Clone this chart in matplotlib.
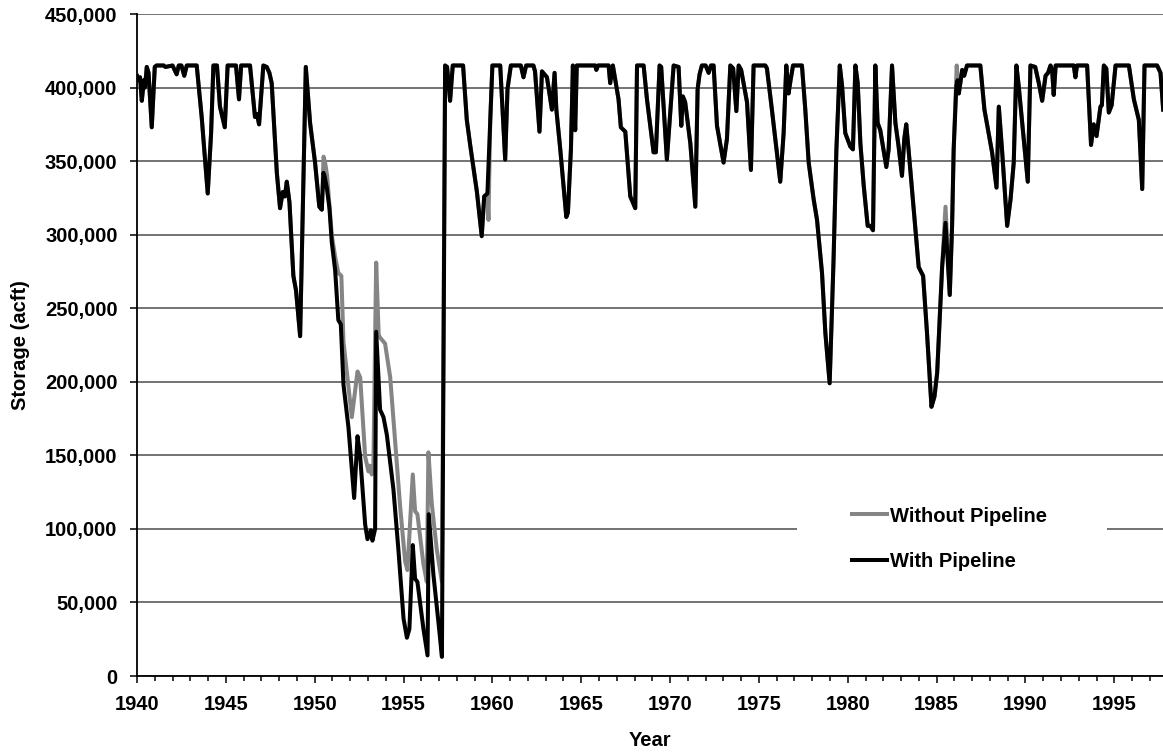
import numpy as np
import matplotlib
matplotlib.use("Agg")
import matplotlib.pyplot as plt
from matplotlib.patches import Rectangle
from matplotlib.ticker import FuncFormatter, MultipleLocator

# storage with the pipeline (black), values in thousand acft
years = [
    1940.0, 1940.08, 1940.17, 1940.27, 1940.39, 1940.45, 1940.55, 1940.65, 1940.83, 1941.0,
    1941.1, 1941.5, 1941.6, 1942.0, 1942.23, 1942.35, 1942.5, 1942.66, 1942.8, 1943.36,
    1943.64, 1943.98, 1944.17, 1944.3, 1944.5, 1944.67, 1944.94, 1945.1, 1945.57, 1945.74,
    1945.86, 1946.36, 1946.64, 1946.75, 1946.87, 1947.11, 1947.3, 1947.45, 1947.58, 1947.87,
    1948.05, 1948.2, 1948.32, 1948.43, 1948.58, 1948.8, 1948.95, 1949.18, 1949.5, 1949.74,
    1950.02, 1950.26, 1950.4, 1950.49, 1950.55, 1950.68, 1950.83, 1950.96, 1951.15, 1951.33,
    1951.47, 1951.62, 1951.9, 1952.22, 1952.41, 1952.56, 1952.84, 1952.97, 1953.16, 1953.25,
    1953.4, 1953.46, 1953.68, 1953.87, 1954.06, 1954.43, 1954.71, 1955.0, 1955.19, 1955.33,
    1955.52, 1955.65, 1955.78, 1956.12, 1956.35, 1956.42, 1956.68, 1956.96, 1957.16, 1957.34,
    1957.45, 1957.62, 1957.77, 1958.35, 1958.56, 1958.75, 1959.13, 1959.4, 1959.54, 1959.72,
    1959.88, 1960.0, 1960.44, 1960.72, 1960.85, 1961.04, 1961.6, 1961.75, 1961.9, 1962.31,
    1962.4, 1962.65, 1962.79, 1963.07, 1963.35, 1963.5, 1963.6, 1963.82, 1964.16, 1964.25,
    1964.42, 1964.53, 1964.66, 1964.75, 1965.79, 1965.85, 1965.95, 1966.54, 1966.63, 1966.78,
    1967.1, 1967.23, 1967.48, 1967.76, 1968.04, 1968.14, 1968.51, 1968.7, 1969.07, 1969.2,
    1969.41, 1969.5, 1969.82, 1970.2, 1970.48, 1970.63, 1970.72, 1970.85, 1971.14, 1971.42,
    1971.55, 1971.66, 1971.79, 1972.0, 1972.17, 1972.3, 1972.45, 1972.64, 1973.01, 1973.2,
    1973.39, 1973.55, 1973.73, 1973.86, 1974.0, 1974.33, 1974.55, 1974.7, 1975.36, 1975.45,
    1975.73, 1975.92, 1976.2, 1976.39, 1976.54, 1976.67, 1976.78, 1976.92, 1977.42, 1977.61,
    1977.8, 1978.08, 1978.27, 1978.55, 1978.74, 1978.98, 1979.2, 1979.36, 1979.55, 1979.68,
    1979.86, 1980.14, 1980.29, 1980.43, 1980.56, 1980.71, 1980.9, 1981.12, 1981.27, 1981.42,
    1981.55, 1981.68, 1981.83, 1982.17, 1982.3, 1982.49, 1982.68, 1982.86, 1983.05, 1983.18,
    1983.29, 1983.42, 1983.7, 1983.99, 1984.24, 1984.46, 1984.71, 1984.88, 1985.03, 1985.31,
    1985.5, 1985.74, 1985.87, 1985.96, 1986.11, 1986.18, 1986.25, 1986.44, 1986.55, 1986.71,
    1987.46, 1987.69, 1987.93, 1988.12, 1988.37, 1988.5, 1988.69, 1988.97, 1989.16, 1989.34,
    1989.49, 1989.62, 1989.9, 1990.13, 1990.28, 1990.55, 1990.75, 1990.94, 1991.13, 1991.27,
    1991.41, 1991.5, 1991.59, 1991.7, 1992.72, 1992.81, 1992.9, 1993.47, 1993.69, 1993.84,
    1994.0, 1994.22, 1994.3, 1994.41, 1994.55, 1994.69, 1994.85, 1995.07, 1995.82, 1996.1,
    1996.38, 1996.57, 1996.7, 1997.41, 1997.6, 1997.75,
]
with_pipeline = [
    408, 405, 407, 391, 405, 400, 414, 410, 373, 414,
    415, 415, 414, 415, 409, 415, 415, 408, 415, 415,
    380, 328, 369, 415, 415, 387, 373, 415, 415, 392,
    415, 415, 380, 382, 375, 415, 414, 410, 403, 342,
    318, 329, 326, 336, 322, 272, 262, 231, 414, 376,
    349, 319, 317, 342, 340, 332, 318, 295, 276, 242,
    239, 198, 169, 121, 163, 149, 103, 93, 99, 92,
    100, 234, 181, 176, 164, 127, 86, 39, 26, 32,
    89, 66, 64, 32, 14, 110, 69, 37, 13, 415,
    414, 391, 415, 415, 378, 361, 329, 299, 326, 328,
    378, 415, 415, 351, 399, 415, 415, 407, 415, 415,
    411, 370, 411, 407, 385, 410, 385, 358, 312, 315,
    358, 415, 371, 415, 415, 412, 415, 415, 403, 415,
    392, 373, 370, 326, 318, 415, 415, 392, 356, 356,
    415, 414, 351, 415, 414, 374, 394, 390, 362, 319,
    399, 409, 415, 415, 410, 415, 415, 374, 349, 365,
    415, 413, 384, 415, 412, 390, 344, 415, 415, 413,
    385, 365, 336, 369, 415, 396, 405, 415, 415, 385,
    349, 324, 310, 274, 233, 199, 283, 358, 415, 401,
    369, 360, 358, 415, 403, 362, 333, 306, 306, 303,
    415, 376, 371, 346, 358, 415, 376, 360, 340, 365,
    375, 358, 319, 278, 272, 233, 183, 190, 206, 278,
    308, 259, 306, 358, 401, 405, 396, 412, 408, 415,
    415, 385, 369, 356, 332, 387, 356, 306, 324, 349,
    415, 401, 365, 336, 415, 414, 403, 391, 408, 410,
    415, 412, 395, 415, 415, 407, 415, 415, 361, 375,
    367, 387, 388, 415, 413, 383, 388, 415, 415, 392,
    378, 331, 415, 415, 410, 385,
]

# storage without the pipeline (gray), only where it departs from the black line
without_years = [
    1950.4, 1950.5, 1950.6, 1950.7, 1950.96, 1951.15, 1951.33, 1951.5, 1951.62, 1952.09,
    1952.41, 1952.56, 1952.84, 1953.03, 1953.1, 1953.21, 1953.3, 1953.46, 1953.6, 1953.68,
    1953.96, 1954.25, 1954.53, 1954.81, 1955.09, 1955.22, 1955.52, 1955.65, 1955.78, 1956.12,
    1956.31, 1956.4, 1956.59, 1956.87, 1957.16, 1957.34,
    1959.72, 1959.78, 1959.88,
    1985.31, 1985.5, 1985.74, 1985.87, 1985.96, 1986.13, 1986.25,
]
without_pipeline = [
    317, 353, 348, 340, 300, 285, 274, 272, 227, 176,
    207, 203, 149, 139, 143, 137, 140, 281, 232, 230,
    226, 203, 159, 115, 78, 72, 137, 112, 110, 76,
    64, 152, 117, 86, 64, 415,
    328, 310, 378,
    278, 319, 259, 306, 358, 415, 396,
]


def merge_series(base_x, base_y, over_x, over_y):
    # gray series = black series with the differing stretches swapped in
    spans = []
    start = over_x[0]
    for a, b in zip(over_x[:-1], over_x[1:]):
        if b - a > 1.0:
            spans.append((start, a))
            start = b
    spans.append((start, over_x[-1]))
    pts = [(x, y) for x, y in zip(base_x, base_y)
           if not any(s <= x <= e for s, e in spans)]
    pts += list(zip(over_x, over_y))
    pts.sort()
    return np.array([p[0] for p in pts]), np.array([p[1] for p in pts])


gray_x, gray_y = merge_series(years, with_pipeline, without_years, without_pipeline)

plt.rcParams['font.family'] = ['Liberation Sans', 'DejaVu Sans']
plt.rcParams['font.weight'] = 'bold'
plt.rcParams['font.size'] = 14.5

fig = plt.figure(figsize=(11.63, 7.56), dpi=100)
ax = fig.add_axes([137 / 1163, 1 - 676 / 756, 1 - 137 / 1163, (676 - 14) / 756])

ax.plot(gray_x, gray_y * 1000, color='#858585', lw=2.9, label='Without Pipeline', zorder=3)
ax.plot(years, np.array(with_pipeline) * 1000, color='black', lw=2.9, label='With Pipeline', zorder=4)

ax.set_xlim(1940, 1997.74)
ax.set_ylim(0, 450000)
ax.xaxis.set_major_locator(MultipleLocator(5))
ax.xaxis.set_minor_locator(MultipleLocator(1))
ax.yaxis.set_major_locator(MultipleLocator(50000))
ax.yaxis.set_major_formatter(FuncFormatter(lambda v, p: '{:,.0f}'.format(v)))

ax.grid(axis='y', color='#4d4d4d', lw=1.1)
ax.set_axisbelow(True)
ax.spines['top'].set_visible(False)
ax.spines['right'].set_visible(False)
ax.spines['left'].set_linewidth(1.3)
ax.spines['bottom'].set_linewidth(1.3)
ax.tick_params(axis='both', which='major', direction='out', length=5, width=1.1, pad=9)
ax.tick_params(axis='x', which='minor', direction='out', length=3.4, width=1.1)

ax.set_xlabel('Year', fontweight='bold')
ax.set_ylabel('Storage (acft)', fontweight='bold')
ax.xaxis.set_label_coords(0.5, -0.083)
ax.yaxis.set_label_coords(-0.104, 0.5)

# white block behind the legend, as in the original
ax.add_patch(Rectangle((0.643, 0.12), 0.302, 0.16, transform=ax.transAxes,
                       facecolor='white', edgecolor='none', zorder=2))
ax.legend(loc='upper left', bbox_to_anchor=(0.697, 0.256), frameon=False,
          borderpad=0, borderaxespad=0, handlelength=1.75, handletextpad=0.15,
          labelspacing=1.3, prop={'weight': 'bold', 'size': 14.5})

fig.savefig('out.png', dpi=100)
